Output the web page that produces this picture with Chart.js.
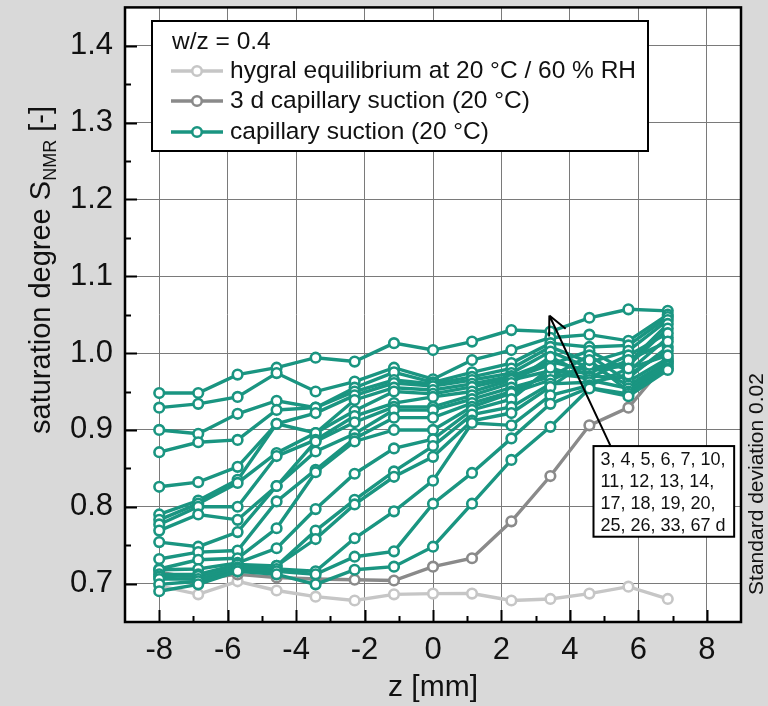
<!DOCTYPE html>
<html>
<head>
<meta charset="utf-8">
<script src="https://cdn.jsdelivr.net/npm/chart.js@4.4.0/dist/chart.umd.min.js"></script>
<style>
  html, body { margin: 0; padding: 0; background: #d9d9d9; }
  #box { display: block; }
</style>
</head>
<body>
<canvas id="box" width="768" height="706"></canvas>
<script>
// measuring positions along the sample (mm)
var zPos = [-8, -6.86, -5.71, -4.57, -3.43, -2.29, -1.14, 0, 1.14, 2.29, 3.43, 4.57, 5.71, 6.86];

// saturation degree profiles, capillary suction at 20 °C, one array per suction time (d)
var day3  = [0.690, 0.699, 0.716, 0.712, 0.699, 0.718, 0.722, 0.748, 0.804, 0.861, 0.904, 0.954, 0.944, 0.978];
var day4  = [0.699, 0.703, 0.716, 0.716, 0.712, 0.735, 0.742, 0.804, 0.844, 0.889, 0.934, 0.955, 0.947, 0.980];
var day5  = [0.706, 0.706, 0.719, 0.719, 0.716, 0.759, 0.794, 0.834, 0.909, 0.906, 0.945, 0.958, 0.980, 0.997];
var day6  = [0.709, 0.710, 0.721, 0.723, 0.758, 0.803, 0.839, 0.865, 0.912, 0.922, 0.956, 0.991, 0.950, 0.983];
var day7  = [0.712, 0.712, 0.725, 0.723, 0.769, 0.809, 0.846, 0.879, 0.920, 0.930, 0.960, 0.962, 0.972, 1.003];
var day10 = [0.718, 0.719, 0.727, 0.746, 0.797, 0.843, 0.876, 0.888, 0.926, 0.940, 0.981, 0.965, 0.954, 0.986];
var day11 = [0.719, 0.731, 0.733, 0.772, 0.845, 0.885, 0.900, 0.900, 0.930, 0.948, 0.965, 0.985, 0.958, 0.989];
var day12 = [0.732, 0.741, 0.743, 0.807, 0.848, 0.889, 0.916, 0.916, 0.935, 0.950, 0.973, 0.968, 0.991, 1.015];
var day13 = [0.754, 0.748, 0.767, 0.827, 0.872, 0.895, 0.926, 0.926, 0.940, 0.955, 0.969, 0.997, 0.963, 0.993];
var day14 = [0.769, 0.790, 0.783, 0.827, 0.885, 0.910, 0.930, 0.930, 0.945, 0.961, 0.995, 0.970, 0.968, 1.008];
var day17 = [0.777, 0.800, 0.800, 0.866, 0.887, 0.918, 0.935, 0.943, 0.950, 0.965, 0.977, 0.974, 0.997, 1.026];
var day18 = [0.783, 0.804, 0.831, 0.870, 0.896, 0.925, 0.950, 0.947, 0.956, 0.967, 0.985, 1.003, 0.976, 1.020];
var day19 = [0.790, 0.808, 0.835, 0.908, 0.896, 0.939, 0.955, 0.952, 0.960, 0.970, 0.989, 0.977, 0.984, 1.032];
var day20 = [0.826, 0.832, 0.852, 0.908, 0.922, 0.945, 0.961, 0.957, 0.965, 0.974, 1.002, 0.981, 0.987, 1.038];
var day25 = [0.871, 0.884, 0.887, 0.926, 0.929, 0.950, 0.965, 0.960, 0.969, 0.980, 1.008, 0.988, 1.003, 1.043];
var day26 = [0.900, 0.895, 0.921, 0.938, 0.929, 0.955, 0.975, 0.962, 0.975, 0.987, 1.013, 1.008, 1.010, 1.047];
var day33 = [0.929, 0.934, 0.943, 0.974, 0.950, 0.963, 0.981, 0.966, 0.991, 1.004, 1.020, 1.024, 1.016, 1.050];
var day67 = [0.948, 0.948, 0.972, 0.981, 0.994, 0.989, 1.013, 1.004, 1.015, 1.030, 1.028, 1.046, 1.057, 1.055];

var days = [3, 4, 5, 6, 7, 10, 11, 12, 13, 14, 17, 18, 19, 20, 25, 26, 33, 67];
var suctionRuns = [day3, day4, day5, day6, day7, day10, day11, day12, day13, day14,
                   day17, day18, day19, day20, day25, day26, day33, day67];

// reference profiles
var hygral    = [0.697, 0.686, 0.703, 0.691, 0.683, 0.678, 0.686, 0.687, 0.687, 0.678, 0.680, 0.687, 0.696, 0.680];
var suction3d = [0.715, 0.706, 0.712, 0.708, 0.706, 0.705, 0.704, 0.722, 0.733, 0.781, 0.840, 0.906, 0.929, 0.990];

var xTicks = [-8, -6, -4, -2, 0, 2, 4, 6, 8];
var yTicks = [0.7, 0.8, 0.9, 1.0, 1.1, 1.2, 1.3, 1.4];

var TEAL = '#1a9581';
var DARK_GREY = '#8a8a8a';
var LIGHT_GREY = '#c6c6c6';
var FONT = '"Liberation Sans", Arial, sans-serif';

function points(vals) {
    return vals.map(function (v, i) { return { x: zPos[i], y: v }; });
}

function lineSet(label, vals, colour) {
    return {
        label: label,
        data: points(vals),
        showLine: true,
        borderColor: colour,
        borderWidth: 3.4,
        pointRadius: 4.8,
        pointBorderWidth: 2.6,
        pointBorderColor: colour,
        pointBackgroundColor: '#ffffff'
    };
}

var datasets = suctionRuns.map(function (run, i) {
    return lineSet(days[i] + ' d', run, TEAL);
});
datasets.push(lineSet('3 d capillary suction (20 °C)', suction3d, DARK_GREY));
datasets.push(lineSet('hygral equilibrium at 20 °C / 60 % RH', hygral, LIGHT_GREY));

// keep the plot box fixed, no extra room for edge labels
function noEdgePadding(s) {
    s.paddingTop = 0;
    s.paddingBottom = 0;
    s.paddingLeft = 0;
    s.paddingRight = 0;
}

// white plot area, inward ticks, frame, legend and notes
var decor = {
    id: 'decor',
    beforeDraw: function (chart) {
        var ctx = chart.ctx, a = chart.chartArea;
        ctx.save();
        ctx.fillStyle = '#ffffff';
        ctx.fillRect(a.left, a.top, a.right - a.left, a.bottom - a.top);
        ctx.restore();
    },
    afterDraw: function (chart) {
        var ctx = chart.ctx, a = chart.chartArea;
        var xs = chart.scales.x, ys = chart.scales.y;
        ctx.save();

        // inward tick marks on left and bottom axes
        ctx.strokeStyle = '#000';
        ctx.lineWidth = 2;
        ctx.beginPath();
        for (var k = 13; k <= 29; k++) {
            var v = k * 0.05;
            var py = Math.round(ys.getPixelForValue(v)) + 0.5;
            var len = (k % 2 === 0) ? 12 : 6;
            if (py <= a.top + 1 || py >= a.bottom - 1) continue;
            ctx.moveTo(a.left, py);
            ctx.lineTo(a.left + len, py);
        }
        for (var z = -8; z <= 8; z++) {
            var px = Math.round(xs.getPixelForValue(z)) + 0.5;
            var l2 = (z % 2 === 0) ? 12 : 6;
            ctx.moveTo(px, a.bottom);
            ctx.lineTo(px, a.bottom - l2);
        }
        ctx.stroke();

        // frame
        ctx.lineWidth = 2.5;
        ctx.strokeRect(a.left, a.top, a.right - a.left, a.bottom - a.top);

        // legend
        ctx.fillStyle = '#ffffff';
        ctx.fillRect(152, 21, 496, 130);
        ctx.lineWidth = 2;
        ctx.strokeRect(152, 21, 496, 130);
        ctx.fillStyle = '#111';
        ctx.font = '24.5px ' + FONT;
        ctx.textBaseline = 'middle';
        ctx.textAlign = 'left';
        ctx.fillText('w/z = 0.4', 172, 42);
        var entries = [
            ['hygral equilibrium at 20 °C / 60 % RH', LIGHT_GREY, 71],
            ['3 d capillary suction (20 °C)', DARK_GREY, 101],
            ['capillary suction (20 °C)', TEAL, 132]
        ];
        entries.forEach(function (e) {
            ctx.strokeStyle = e[1];
            ctx.lineWidth = 3.5;
            ctx.beginPath();
            ctx.moveTo(171, e[2]);
            ctx.lineTo(223, e[2]);
            ctx.stroke();
            ctx.beginPath();
            ctx.arc(197, e[2], 4.8, 0, Math.PI * 2);
            ctx.fillStyle = '#fff';
            ctx.fill();
            ctx.lineWidth = 2.6;
            ctx.stroke();
            ctx.fillStyle = '#111';
            ctx.fillText(e[0], 230, e[2]);
        });

        // arrow pointing at the suction profiles
        var tipX = xs.getPixelForValue(3.4), tipY = ys.getPixelForValue(1.049);
        var tailX = xs.getPixelForValue(5.19), tailY = ys.getPixelForValue(0.879);
        ctx.strokeStyle = '#000';
        ctx.lineWidth = 2;
        ctx.beginPath();
        ctx.moveTo(tailX, tailY);
        ctx.lineTo(tipX, tipY);
        var ang = Math.atan2(tailY - tipY, tailX - tipX);
        [0.45, -0.45].forEach(function (d) {
            ctx.moveTo(tipX, tipY);
            ctx.lineTo(tipX + 21 * Math.cos(ang + d), tipY + 21 * Math.sin(ang + d));
        });
        ctx.stroke();

        // box listing the suction times
        var bx0 = xs.getPixelForValue(4.69), bx1 = xs.getPixelForValue(8.8);
        var by0 = ys.getPixelForValue(0.879), by1 = ys.getPixelForValue(0.761);
        ctx.fillStyle = '#fff';
        ctx.fillRect(bx0, by0, bx1 - bx0, by1 - by0);
        ctx.strokeRect(bx0, by0, bx1 - bx0, by1 - by0);
        ctx.fillStyle = '#111';
        ctx.font = '18px ' + FONT;
        ctx.textBaseline = 'middle';
        var rows = [days.slice(0, 6), days.slice(6, 10), days.slice(10, 14), days.slice(14)];
        rows.forEach(function (r, i) {
            var txt = r.join(', ') + (i < rows.length - 1 ? ',' : ' d');
            ctx.fillText(txt, bx0 + 7, by0 + 14 + i * 22);
        });

        // y axis title with subscript
        ctx.save();
        ctx.translate(40, 270);
        ctx.rotate(-Math.PI / 2);
        var main = '29px ' + FONT, sub = '18px ' + FONT;
        ctx.font = main;
        var w1 = ctx.measureText('saturation degree S').width;
        var w3 = ctx.measureText(' [-]').width;
        ctx.font = sub;
        var w2 = ctx.measureText('NMR').width;
        var x0 = -(w1 + w2 + w3) / 2;
        ctx.fillStyle = '#111';
        ctx.textBaseline = 'alphabetic';
        ctx.font = main;
        ctx.fillText('saturation degree S', x0, 10);
        ctx.font = sub;
        ctx.fillText('NMR', x0 + w1, 16);
        ctx.font = main;
        ctx.fillText(' [-]', x0 + w1 + w2, 10);
        ctx.restore();

        // note on the right edge
        ctx.save();
        ctx.translate(757, 484);
        ctx.rotate(-Math.PI / 2);
        ctx.font = '21px ' + FONT;
        ctx.fillStyle = '#111';
        ctx.textAlign = 'center';
        ctx.textBaseline = 'middle';
        ctx.fillText('Standard deviation 0.02', 0, 0);
        ctx.restore();

        ctx.restore();
    }
};

var mychart = new Chart('box', {
    type: 'scatter',
    data: { datasets: datasets },
    options: {
        responsive: false,
        animation: false,
        devicePixelRatio: 1,
        layout: { padding: { top: 7, right: 27, left: 0, bottom: 0 } },
        plugins: { legend: { display: false }, tooltip: { enabled: false } },
        scales: {
            x: {
                type: 'linear',
                min: -9,
                max: 9,
                afterBuildTicks: function (s) { s.ticks = xTicks.map(function (v) { return { value: v }; }); },
                afterFit: function (s) { s.height = 84; noEdgePadding(s); },
                grid: { color: '#7a7a7a', lineWidth: 1, drawTicks: false },
                border: { display: false },
                ticks: { color: '#111', padding: 10, font: { family: FONT, size: 31 } },
                title: {
                    display: true, text: 'z [mm]', color: '#111',
                    padding: { top: 0, bottom: 0 }, font: { family: FONT, size: 30 }
                }
            },
            y: {
                type: 'linear',
                min: 0.65,
                max: 1.45,
                afterBuildTicks: function (s) { s.ticks = yTicks.map(function (v) { return { value: v }; }); },
                afterFit: function (s) { s.width = 125; noEdgePadding(s); },
                grid: { color: '#7a7a7a', lineWidth: 1, drawTicks: false },
                border: { display: false },
                ticks: {
                    color: '#111', padding: 12, font: { family: FONT, size: 31 },
                    callback: function (v) { return v.toFixed(1); }
                }
            }
        }
    },
    plugins: [decor]
});
</script>
</body>
</html>
